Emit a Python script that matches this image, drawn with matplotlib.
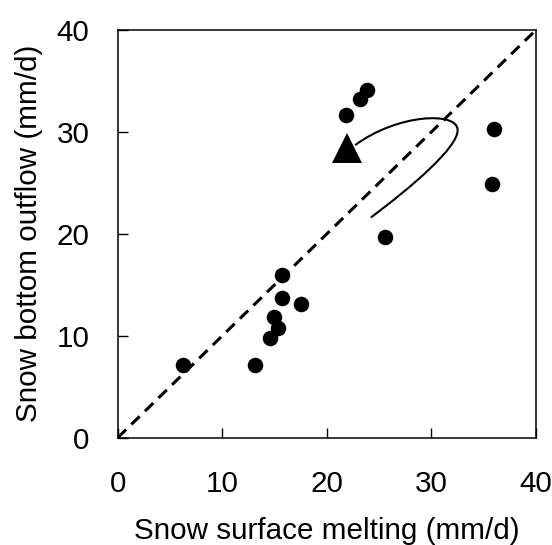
import numpy as np
import matplotlib
matplotlib.use("Agg")
import matplotlib.pyplot as plt
from matplotlib.path import Path
from matplotlib.patches import PathPatch

# surface melting (x) vs bottom outflow (y), mm/d
melt = [6.2, 13.1, 14.6, 14.9, 15.3, 15.7, 15.7, 17.5, 21.8, 23.2, 23.8, 25.6, 35.8, 36.0]
outflow = [7.1, 7.1, 9.8, 11.8, 10.8, 13.7, 16.0, 13.1, 31.7, 33.2, 34.1, 19.7, 24.9, 30.3]

# hand-drawn style arrow (bezier control points, data units)
arrow_path = [(24.2, 21.6), (28.0, 24.5), (32.6, 28.5), (32.5, 30.2),
              (32.5, 32.0), (26.8, 31.8), (22.7, 28.7)]
arrow_head = (21.95, 28.45)

ticks = [0, 10, 20, 30, 40]

plt.rcParams["font.family"] = ["Liberation Sans", "DejaVu Sans"]

fig = plt.figure(figsize=(5.52, 5.45), dpi=100)
ax = fig.add_axes([0.2134, 0.197, 0.7576, 0.748])

ax.plot([0, 40], [0, 40], color="black", lw=2.2, ls=(0, (3.8, 2.4)), zorder=2)
ax.scatter(melt, outflow, s=125, color="black", zorder=4, linewidths=0)

codes = [Path.MOVETO] + [Path.CURVE4] * 6
ax.add_patch(PathPatch(Path(arrow_path, codes), fill=False, lw=1.5,
                       edgecolor="black", zorder=3))
ax.plot([arrow_head[0]], [arrow_head[1]], marker="^", ms=21, color="black",
        mew=0, zorder=4)

ax.set_xlim(0, 40)
ax.set_ylim(0, 40)
ax.set_xticks(ticks)
ax.set_yticks(ticks)
ax.tick_params(direction="in", length=7, width=1, labelsize=21.3, pad=23,
               top=False, right=False)
ax.tick_params(axis="y", pad=20.5)
for sp in ax.spines.values():
    sp.set_linewidth(1.1)

ax.set_xlabel("Snow surface melting (mm/d)", fontsize=21.3, labelpad=14)
ax.set_ylabel("Snow bottom outflow (mm/d)", fontsize=21.3, labelpad=9.5)

fig.savefig("out.png", dpi=100)
